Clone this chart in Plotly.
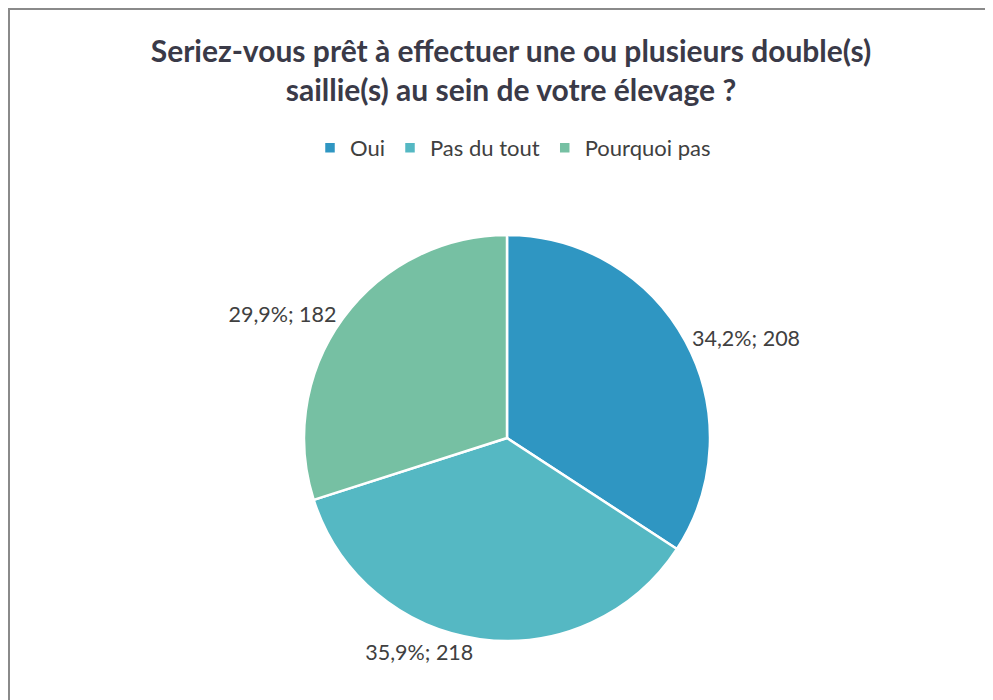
import plotly.graph_objects as go

categories = ["Oui", "Pas du tout", "Pourquoi pas"]
values = [208, 218, 182]
colors = ["#2F96C2", "#55B8C3", "#76C0A3"]
title_text = "Seriez-vous prêt à effectuer une ou plusieurs double(s)<br>saillie(s) au sein de votre élevage ?"

# page body has an 8px margin; figure sized to fill the rest of the window
W, H = 985, 692
cx, cy, r = 499, 430, 203

fig = go.Figure(go.Pie(
    labels=categories,
    values=values,
    sort=False,
    direction="clockwise",
    rotation=0,
    marker=dict(colors=colors, line=dict(color="white", width=2.5)),
    texttemplate="%{percent:.1%}; %{value}",
    textposition="outside",
    textfont=dict(family="Lato, Open Sans, sans-serif", size=21.5, color="#404040"),
    domain=dict(x=[(cx - r) / W, (cx + r) / W], y=[(H - cy - r) / H, (H - cy + r) / H]),
    showlegend=True,
    hoverinfo="label+value+percent",
))

border = dict(color="#8a8a8a", width=2)
fig.update_layout(
    width=W, height=H,
    separators=", ",
    margin=dict(l=0, r=0, t=0, b=0),
    paper_bgcolor="white",
    plot_bgcolor="white",
    title=dict(
        text=title_text,
        x=503 / W, xanchor="center",
        y=1 - 54 / H, yanchor="middle",
        font=dict(family="Lato, Open Sans, sans-serif", size=30, color="#3a3a48", weight="bold"),
    ),
    legend=dict(
        orientation="h",
        x=505 / W, xanchor="center",
        y=1 - 140 / H, yanchor="middle",
        font=dict(family="Lato, Open Sans, sans-serif", size=22, color="#404040"),
        itemwidth=30,
    ),
    shapes=[
        dict(type="line", xref="paper", yref="paper",
             x0=1 / W, x1=1 / W, y0=0, y1=1 - 1 / H, line=border),
        dict(type="line", xref="paper", yref="paper",
             x0=0, x1=1, y0=1 - 1 / H, y1=1 - 1 / H, line=border),
    ],
)

fig.write_html("out.html")
